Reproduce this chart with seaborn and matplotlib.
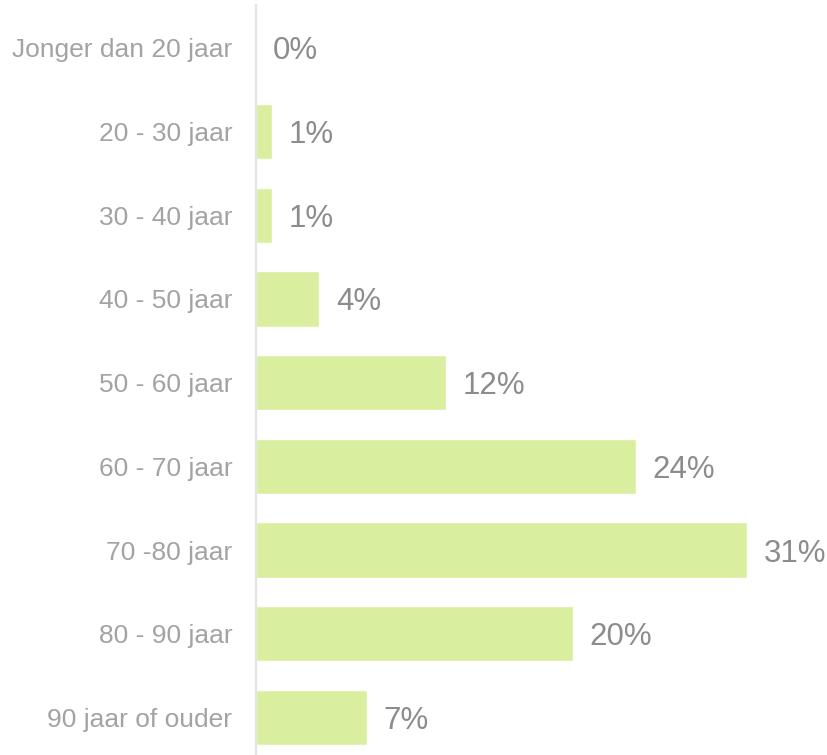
import matplotlib
matplotlib.use("Agg")
import matplotlib.pyplot as plt
import seaborn as sns
import pandas as pd

# leeftijdscategorieen en percentages
categories = ["Jonger dan 20 jaar", "20 - 30 jaar", "30 - 40 jaar", "40 - 50 jaar",
              "50 - 60 jaar", "60 - 70 jaar", "70 -80 jaar", "80 - 90 jaar",
              "90 jaar of ouder"]
values = [0, 1, 1, 4, 12, 24, 31, 20, 7]
labels = ["0%", "1%", "1%", "4%", "12%", "24%", "31%", "20%", "7%"]

df = pd.DataFrame({"cat": categories, "val": values})

sns.set_style("white")
plt.rcParams['font.family'] = ['Liberation Sans', 'DejaVu Sans']

fig = plt.figure(figsize=(8.28, 7.55), dpi=100)
ax = fig.add_axes([256 / 828, 0, (810 - 256) / 828, 750 / 755])

sns.barplot(data=df, x="val", y="cat", orient="h", color="#d9ef9f",
            saturation=1, width=0.66, ax=ax)

for i, (v, lab) in enumerate(zip(values, labels)):
    ax.annotate(lab, (v, i), xytext=(12, 0), textcoords="offset points",
                va="center_baseline", ha="left", fontsize=22.5, color="#8c8c8c")

ax.set_xlim(0, (810 - 256) / 15.84)
ax.set_ylim(8.449, -0.511)
ax.set_xlabel("")
ax.set_ylabel("")
ax.set_xticks([])
ax.tick_params(axis="y", length=0, pad=17, labelsize=19, labelcolor="#a3a3a3")
for s in ["top", "right", "bottom"]:
    ax.spines[s].set_visible(False)
ax.spines["left"].set_color("#e3e3e3")
ax.spines["left"].set_linewidth(1.5)

fig.savefig("out.png", dpi=100)
